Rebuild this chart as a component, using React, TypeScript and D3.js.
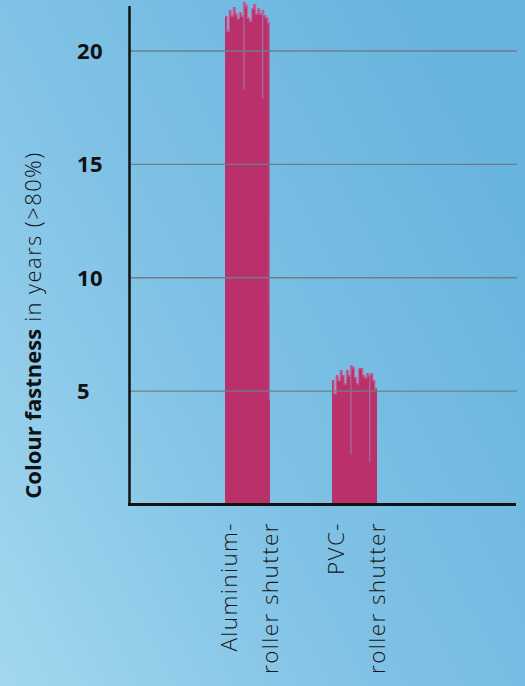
import React from "react";
import * as d3 from "d3";

const categories = ["Aluminium", "PVC"];
const labelLine1 = ["Aluminium-", "PVC-"];
const labelLine2 = ["roller shutter", "roller shutter"];
const yTicks = [5, 10, 15, 20];

// ragged top of each bar, strip by strip (years)
const aluminiumProfile = [21.54, 20.92, 21.8, 21.58, 21.94, 21.67, 21.45, 21.72, 21.58, 22.16, 22.02, 21.49, 21.36, 21.89, 22.07, 21.67, 21.89, 21.67, 21.8, 21.58, 21.49, 21.27];
const pvcProfile = [5.49, 4.92, 5.71, 5.49, 5.93, 5.71, 5.36, 5.93, 5.71, 6.15, 6.06, 5.62, 5.36, 6.02, 6.02, 5.71, 5.62, 5.8, 5.71, 5.8, 5.49, 5.14];
const profiles = [aluminiumProfile, pvcProfile];

// light scratch lines inside the bars: [fraction across bar, lowest value reached]
const aluminiumStreaks = [[0.42, 18.3], [0.84, 17.9], [0.985, 4.6]];
const pvcStreaks = [[0.42, 2.2], [0.84, 1.85]];
const streaks = [aluminiumStreaks, pvcStreaks];

const W = 525;
const H = 686;

export default function App() {
  const x = d3.scaleBand<string>().domain(categories).range([194, 408]).paddingInner(0.58).paddingOuter(0.29);
  const y = d3.scaleLinear().domain([0, 20]).range([504.5, 51]);
  const plotLeft = 130;
  const plotRight = 517;
  const barColor = "#b9306b";
  const font = "'Open Sans', 'DejaVu Sans', sans-serif";

  return (
    <svg width={W} height={H} style={{ position: "absolute", left: 0, top: 0, display: "block" }}>
      <defs>
        <linearGradient id="bg" x1="0" y1="1" x2="1" y2="0.3">
          <stop offset="0" stopColor="#a3d7ef" />
          <stop offset="0.45" stopColor="#82c3e6" />
          <stop offset="1" stopColor="#67b4de" />
        </linearGradient>
      </defs>
      <rect x={0} y={0} width={W} height={H} fill="url(#bg)" />

      {categories.map((c, i) => {
        const x0 = x(c)!;
        const bw = x.bandwidth();
        const prof = profiles[i];
        const sw = bw / prof.length;
        const pts = prof.map((v, j) => ({ px: x0 + j * sw, v }));
        pts.push({ px: x0 + bw, v: prof[prof.length - 1] });
        const area = d3
          .area<{ px: number; v: number }>()
          .x((d) => d.px)
          .y0(y(0))
          .y1((d) => y(d.v))
          .curve(d3.curveStepAfter);
        const tip = d3
          .line<{ px: number; v: number }>()
          .x((d) => d.px)
          .y((d) => y(d.v) + 1)
          .curve(d3.curveStepAfter);
        return (
          <g key={c}>
            <path d={area(pts)!} fill={barColor} />
            <path d={tip(pts)!} fill="none" stroke="#c8679a" strokeWidth={1.5} opacity={0.7} />
            {streaks[i].map(([f, v], k) => (
              <line
                key={"s" + k}
                x1={x0 + f * bw}
                x2={x0 + f * bw}
                y1={y(prof[Math.min(prof.length - 1, Math.floor(f * prof.length))]) + 2}
                y2={y(v)}
                stroke="#a07cae"
                strokeWidth={1}
              />
            ))}
          </g>
        );
      })}

      {yTicks.map((t) => (
        <line key={t} x1={plotLeft} x2={plotRight} y1={y(t)} y2={y(t)} stroke="#6f7f89" strokeWidth={1.4} />
      ))}

      <line x1={129.5} x2={129.5} y1={6} y2={506} stroke="#111" strokeWidth={2.5} />
      <line x1={128} x2={516} y1={y(0)} y2={y(0)} stroke="#111" strokeWidth={3} />

      {yTicks.map((t) => (
        <text
          key={"l" + t}
          x={77}
          y={y(t) + 8}
          fontFamily={font}
          fontWeight={700}
          fontSize={22}
          letterSpacing={0.5}
          fill="#111"
        >
          {t}
        </text>
      ))}

      <text
        transform={`translate(41,325) rotate(-90)`}
        textAnchor="middle"
        fontFamily={font}
        fontSize={22}
        fill="#111"
      >
        <tspan fontWeight={700}>Colour fastness</tspan>
        <tspan fontWeight={300} letterSpacing={1.4}> in years (&gt;80%)</tspan>
      </text>

      {categories.map((c, i) => {
        const cx = x(c)! + x.bandwidth() / 2;
        return (
          <g key={"cat" + c} fontFamily={font} fontWeight={300} fontSize={22.5} fill="#161616" letterSpacing={1.4}>
            <text transform={`translate(${cx - 11},522) rotate(-90)`} textAnchor="end">
              {labelLine1[i]}
            </text>
            <text transform={`translate(${cx + 30},522) rotate(-90)`} textAnchor="end">
              {labelLine2[i]}
            </text>
          </g>
        );
      })}
    </svg>
  );
}
